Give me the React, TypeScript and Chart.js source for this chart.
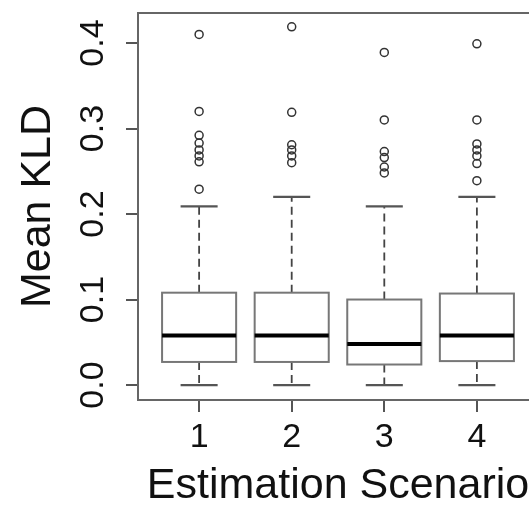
import React, { useEffect, useRef } from "react";
import { Chart, registerables } from "chart.js";

Chart.register(...registerables);

// ---- data ----
const categories = ["1", "2", "3", "4"];
const q1 = [0.027, 0.027, 0.024, 0.028];
const medians = [0.058, 0.058, 0.048, 0.058];
const q3 = [0.108, 0.108, 0.1, 0.107];
const whiskerLow = [0, 0, 0, 0];
const whiskerHigh = [0.209, 0.22, 0.209, 0.22];
const outliers1 = [0.41, 0.32, 0.292, 0.283, 0.275, 0.268, 0.261, 0.229];
const outliers2 = [0.419, 0.319, 0.281, 0.275, 0.268, 0.26];
const outliers3 = [0.389, 0.31, 0.273, 0.266, 0.255, 0.248];
const outliers4 = [0.399, 0.31, 0.282, 0.275, 0.268, 0.259, 0.239];
const yTickValues = [0, 0.1, 0.2, 0.3, 0.4];
const xLabel = "Estimation Scenario";
const yLabel = "Mean KLD";

const outlierGroups = [outliers1, outliers2, outliers3, outliers4];

const FONT = "'Liberation Sans', Arial, Helvetica, sans-serif";

const boxPlugin = {
  id: "boxDraw",
  beforeDatasetsDraw(chart: any) {
    const { ctx, chartArea, scales } = chart;
    const xs = scales.x;
    const ys = scales.y;
    ctx.save();
    // plot frame
    ctx.strokeStyle = "#666";
    ctx.lineWidth = 2;
    ctx.strokeRect(chartArea.left, chartArea.top, chartArea.right - chartArea.left, chartArea.bottom - chartArea.top);

    categories.forEach((_, i) => {
      const pos = i + 1;
      const xc = xs.getPixelForValue(pos);
      const bl = xs.getPixelForValue(pos - 0.4);
      const br = xs.getPixelForValue(pos + 0.4);
      const cl = xs.getPixelForValue(pos - 0.2);
      const cr = xs.getPixelForValue(pos + 0.2);
      const yq1 = ys.getPixelForValue(q1[i]);
      const yq3 = ys.getPixelForValue(q3[i]);
      const ymed = ys.getPixelForValue(medians[i]);
      const ylo = ys.getPixelForValue(whiskerLow[i]);
      const yhi = ys.getPixelForValue(whiskerHigh[i]);

      // whiskers (dashed)
      ctx.strokeStyle = "#444";
      ctx.lineWidth = 1.8;
      ctx.setLineDash([8, 5]);
      ctx.beginPath();
      ctx.moveTo(xc, yq3);
      ctx.lineTo(xc, yhi);
      ctx.moveTo(xc, yq1);
      ctx.lineTo(xc, ylo);
      ctx.stroke();
      ctx.setLineDash([]);

      // caps
      ctx.strokeStyle = "#555";
      ctx.lineWidth = 2.2;
      ctx.beginPath();
      ctx.moveTo(cl, yhi);
      ctx.lineTo(cr, yhi);
      ctx.moveTo(cl, ylo);
      ctx.lineTo(cr, ylo);
      ctx.stroke();

      // box
      ctx.fillStyle = "#fff";
      ctx.fillRect(bl, yq3, br - bl, yq1 - yq3);
      ctx.strokeStyle = "#777";
      ctx.lineWidth = 2;
      ctx.strokeRect(bl, yq3, br - bl, yq1 - yq3);

      // median
      ctx.strokeStyle = "#000";
      ctx.lineWidth = 4;
      ctx.beginPath();
      ctx.moveTo(bl, ymed);
      ctx.lineTo(br, ymed);
      ctx.stroke();
    });
    ctx.restore();
  },
};

export default function App() {
  const ref = useRef<HTMLCanvasElement | null>(null);

  useEffect(() => {
    if (!ref.current) return;
    const points: { x: number; y: number }[] = [];
    outlierGroups.forEach((g, i) => g.forEach((v) => points.push({ x: i + 1, y: v })));

    const chart = new Chart(ref.current, {
      type: "scatter",
      data: {
        datasets: [
          {
            data: points,
            pointStyle: "circle",
            pointRadius: 4,
            pointBorderWidth: 1.5,
            borderColor: "#333",
            backgroundColor: "rgba(0,0,0,0)",
          },
        ],
      },
      options: {
        animation: false,
        responsive: false,
        devicePixelRatio: 1,
        layout: { padding: { left: 0, right: 22, top: 13, bottom: 0 } },
        plugins: { legend: { display: false }, tooltip: { enabled: false } },
        scales: {
          x: {
            type: "linear",
            position: "bottom",
            min: 0.34,
            max: 4.66,
            afterBuildTicks: (s: any) => {
              s.ticks = categories.map((_, i) => ({ value: i + 1 }));
            },
            afterFit: (s: any) => {
              s.height = 105;
              s.paddingLeft = 0;
              s.paddingRight = 0;
              s.paddingTop = 0;
              s.paddingBottom = 0;
            },
            grid: {
              display: true,
              drawOnChartArea: false,
              drawTicks: true,
              tickLength: 12,
              color: "#555",
              lineWidth: 2,
            },
            border: { display: true, color: "#555", width: 2 },
            ticks: {
              autoSkip: false,
              maxRotation: 0,
              padding: 9,
              color: "#111",
              font: { family: FONT, size: 34, lineHeight: 1 },
              callback: (v: any) => categories[Math.round(Number(v)) - 1] ?? "",
            },
            title: {
              display: true,
              text: xLabel,
              color: "#111",
              font: { family: FONT, size: 43, lineHeight: 1 },
              padding: { top: 0, bottom: -3 },
            },
          },
          y: {
            type: "linear",
            position: "left",
            min: -0.0175,
            max: 0.4351,
            afterBuildTicks: (s: any) => {
              s.ticks = yTickValues.map((v) => ({ value: v }));
            },
            afterFit: (s: any) => {
              s.width = 138;
              s.paddingLeft = 0;
              s.paddingRight = 0;
              s.paddingTop = 0;
              s.paddingBottom = 0;
            },
            grid: {
              display: true,
              drawOnChartArea: false,
              drawTicks: true,
              tickLength: 12,
              color: "#555",
              lineWidth: 2,
            },
            border: { display: true, color: "#555", width: 2 },
            ticks: {
              autoSkip: false,
              minRotation: 90,
              maxRotation: 90,
              crossAlign: "center",
              padding: 9,
              color: "#111",
              font: { family: FONT, size: 34, lineHeight: 1 },
              callback: (v: any) => Number(v).toFixed(1),
            },
            title: {
              display: true,
              text: yLabel,
              color: "#111",
              font: { family: FONT, size: 43, lineHeight: 1 },
              padding: { top: 16.5, bottom: 0 },
            },
          },
        },
      },
      plugins: [boxPlugin],
    } as any);
    return () => chart.destroy();
  }, []);

  return (
    <div
      style={{
        position: "fixed",
        top: 0,
        left: 0,
        width: 529,
        height: 505,
        overflow: "hidden",
        background: "#fff",
      }}
    >
      <canvas ref={ref} width={560} height={505} style={{ width: 560, height: 505, display: "block" }} />
    </div>
  );
}
